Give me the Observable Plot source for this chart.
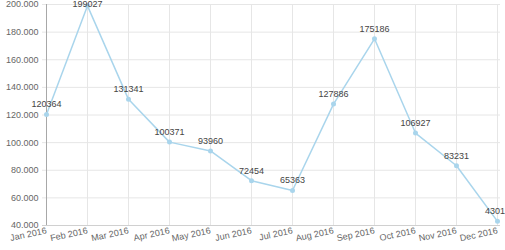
<!DOCTYPE html>
<html><head><meta charset="utf-8">
<script src="https://cdn.jsdelivr.net/npm/d3@7"></script>
<script src="https://cdn.jsdelivr.net/npm/@observablehq/plot@0.6"></script>
<style>html,body{margin:0;padding:0;background:#fff;overflow:hidden}</style>
</head><body><div id="chart"></div>
<script>
const months = ["Jan 2016","Feb 2016","Mar 2016","Apr 2016","May 2016","Jun 2016","Jul 2016","Aug 2016","Sep 2016","Oct 2016","Nov 2016","Dec 2016"];
const values = [120364,199027,131341,100371,93960,72454,65363,127886,175186,106927,83231,43012];
const yTicks = [40000,60000,80000,100000,120000,140000,160000,180000,200000];

const data = months.map((m,i)=>({month:m, value:values[i]}));
const fmt = d3.formatLocale({thousands:".", decimal:",", grouping:[3], currency:["",""]}).format(",");

const chart = Plot.plot({
  width: 505, height: 250,
  marginLeft: 42, marginRight: 5, marginTop: 4, marginBottom: 25,
  style: {fontFamily: "'Liberation Sans', Arial, sans-serif", fontSize: "9px", background: "#fff", overflow: "visible"},
  x: {type: "point", domain: months, padding: 0, label: null},
  y: {domain: [40000, 200000], label: null},
  marks: [
    Plot.ruleY(yTicks, {stroke: "#e6e6e6"}),
    Plot.ruleX(months, {stroke: "#e6e6e6"}),
    Plot.ruleY([40000], {stroke: "#d0d0d0"}),
    Plot.ruleX([months[0]], {stroke: "#a8a8a8"}),
    Plot.axisY({ticks: yTicks, tickFormat: fmt, tickSize: 0, tickPadding: 4, fill: "#666", label: null}),
    Plot.axisX({tickSize: 0, tickRotate: -12, tickPadding: 5, fill: "#666", label: null}),
    Plot.line(data, {x: "month", y: "value", stroke: "#a9d5ec", strokeWidth: 1.5}),
    Plot.dot(data, {x: "month", y: "value", r: 2.5, fill: "#a9d5ec"}),
    Plot.text(data, {x: "month", y: d => Math.min(d.value, 193000), text: d => String(d.value), dy: -10, fill: "#444", fontSize: 9})
  ]
});
document.getElementById("chart").appendChild(chart);
</script></body></html>
